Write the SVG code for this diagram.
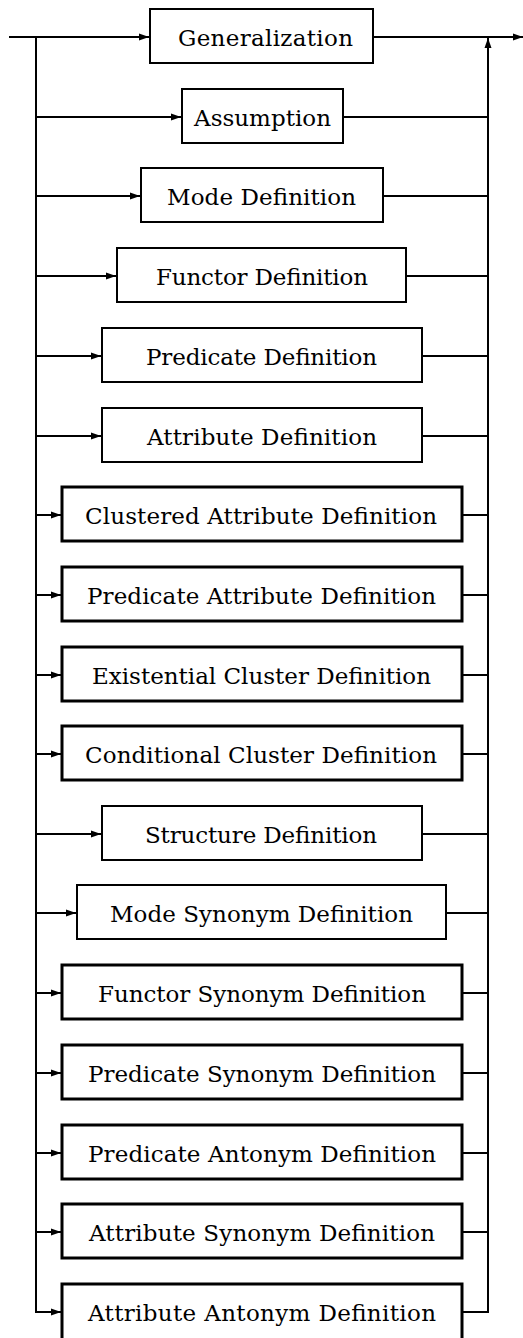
<svg xmlns="http://www.w3.org/2000/svg" width="523" height="1338" viewBox="0 0 523 1338">
  <style>
    .box { fill: #ffffff; stroke: #000000; stroke-width: 2; }
    .box.wide { stroke-width: 3; }
    .lbl { font-family: "DejaVu Serif", "Liberation Serif", serif; font-size: 23px; fill: #000000; }
    .wire { fill: none; stroke: #000000; stroke-width: 2; }
  </style>
  <defs>
    <marker id="arrow" markerUnits="userSpaceOnUse" markerWidth="10" markerHeight="8" refX="10" refY="4" orient="auto">
      <path d="M0,0.5 L10,4 L0,7.5 Z" fill="#000000"/>
    </marker>
  </defs>

  <!-- connectors: left fan-out bus, right collecting bus -->
  <g id="connectors">
    <!-- entry line -->
    <path class="wire" d="M9,37 H149" marker-end="url(#arrow)"/>
    <!-- left bus -->
    <path class="wire" d="M36,37 V1312 H61" marker-end="url(#arrow)"/>
    <path class="wire" d="M36,117 H181" marker-end="url(#arrow)"/>
    <path class="wire" d="M36,196 H140" marker-end="url(#arrow)"/>
    <path class="wire" d="M36,276 H116" marker-end="url(#arrow)"/>
    <path class="wire" d="M36,356 H101" marker-end="url(#arrow)"/>
    <path class="wire" d="M36,436 H101" marker-end="url(#arrow)"/>
    <path class="wire" d="M36,515 H61" marker-end="url(#arrow)"/>
    <path class="wire" d="M36,595 H61" marker-end="url(#arrow)"/>
    <path class="wire" d="M36,675 H61" marker-end="url(#arrow)"/>
    <path class="wire" d="M36,754 H61" marker-end="url(#arrow)"/>
    <path class="wire" d="M36,834 H101" marker-end="url(#arrow)"/>
    <path class="wire" d="M36,913 H76" marker-end="url(#arrow)"/>
    <path class="wire" d="M36,993 H61" marker-end="url(#arrow)"/>
    <path class="wire" d="M36,1073 H61" marker-end="url(#arrow)"/>
    <path class="wire" d="M36,1153 H61" marker-end="url(#arrow)"/>
    <path class="wire" d="M36,1232 H61" marker-end="url(#arrow)"/>
    <!-- exit line -->
    <path class="wire" d="M373,37 H523" marker-end="url(#arrow)"/>
    <!-- right bus -->
    <path class="wire" d="M462,1312 H488 V38" marker-end="url(#arrow)"/>
    <path class="wire" d="M343,117 H488"/>
    <path class="wire" d="M383,196 H488"/>
    <path class="wire" d="M406,276 H488"/>
    <path class="wire" d="M422,356 H488"/>
    <path class="wire" d="M422,436 H488"/>
    <path class="wire" d="M462,515 H488"/>
    <path class="wire" d="M462,595 H488"/>
    <path class="wire" d="M462,675 H488"/>
    <path class="wire" d="M462,754 H488"/>
    <path class="wire" d="M422,834 H488"/>
    <path class="wire" d="M446,913 H488"/>
    <path class="wire" d="M462,993 H488"/>
    <path class="wire" d="M462,1073 H488"/>
    <path class="wire" d="M462,1153 H488"/>
    <path class="wire" d="M462,1232 H488"/>
  </g>

  <g id="generalization">
    <rect class="box" x="150" y="9" width="223" height="54"/>
    <text class="lbl" x="178" y="46" textLength="175" lengthAdjust="spacing">Generalization</text>
  </g>
  <g id="assumption">
    <rect class="box" x="182" y="89" width="161" height="54"/>
    <text class="lbl" x="194" y="126" textLength="137" lengthAdjust="spacing">Assumption</text>
  </g>
  <g id="mode-definition">
    <rect class="box" x="141" y="168" width="242" height="54"/>
    <text class="lbl" x="167" y="205" textLength="189" lengthAdjust="spacing">Mode Definition</text>
  </g>
  <g id="functor-definition">
    <rect class="box" x="117" y="248" width="289" height="54"/>
    <text class="lbl" x="156" y="285" textLength="212" lengthAdjust="spacing">Functor Definition</text>
  </g>
  <g id="predicate-definition">
    <rect class="box" x="102" y="328" width="320" height="54"/>
    <text class="lbl" x="146" y="365" textLength="231" lengthAdjust="spacing">Predicate Definition</text>
  </g>
  <g id="attribute-definition">
    <rect class="box" x="102" y="408" width="320" height="54"/>
    <text class="lbl" x="147" y="445" textLength="230" lengthAdjust="spacing">Attribute Definition</text>
  </g>
  <g id="clustered-attribute-definition">
    <rect class="box wide" x="62" y="487" width="400" height="54"/>
    <text class="lbl" x="85" y="524" textLength="352" lengthAdjust="spacing">Clustered Attribute Definition</text>
  </g>
  <g id="predicate-attribute-definition">
    <rect class="box wide" x="62" y="567" width="400" height="54"/>
    <text class="lbl" x="87" y="604" textLength="349" lengthAdjust="spacing">Predicate Attribute Definition</text>
  </g>
  <g id="existential-cluster-definition">
    <rect class="box wide" x="62" y="647" width="400" height="54"/>
    <text class="lbl" x="92" y="684" textLength="339" lengthAdjust="spacing">Existential Cluster Definition</text>
  </g>
  <g id="conditional-cluster-definition">
    <rect class="box wide" x="62" y="726" width="400" height="54"/>
    <text class="lbl" x="85" y="763" textLength="352" lengthAdjust="spacing">Conditional Cluster Definition</text>
  </g>
  <g id="structure-definition">
    <rect class="box" x="102" y="806" width="320" height="54"/>
    <text class="lbl" x="145" y="843" textLength="232" lengthAdjust="spacing">Structure Definition</text>
  </g>
  <g id="mode-synonym-definition">
    <rect class="box" x="77" y="885" width="369" height="54"/>
    <text class="lbl" x="110" y="922" textLength="303" lengthAdjust="spacing">Mode Synonym Definition</text>
  </g>
  <g id="functor-synonym-definition">
    <rect class="box wide" x="62" y="965" width="400" height="54"/>
    <text class="lbl" x="98" y="1002" textLength="328" lengthAdjust="spacing">Functor Synonym Definition</text>
  </g>
  <g id="predicate-synonym-definition">
    <rect class="box wide" x="62" y="1045" width="400" height="54"/>
    <text class="lbl" x="88" y="1082" textLength="348" lengthAdjust="spacing">Predicate Synonym Definition</text>
  </g>
  <g id="predicate-antonym-definition">
    <rect class="box wide" x="62" y="1125" width="400" height="54"/>
    <text class="lbl" x="88" y="1162" textLength="348" lengthAdjust="spacing">Predicate Antonym Definition</text>
  </g>
  <g id="attribute-synonym-definition">
    <rect class="box wide" x="62" y="1204" width="400" height="54"/>
    <text class="lbl" x="89" y="1241" textLength="346" lengthAdjust="spacing">Attribute Synonym Definition</text>
  </g>
  <g id="attribute-antonym-definition">
    <rect class="box wide" x="62" y="1284" width="400" height="60"/>
    <text class="lbl" x="88" y="1321" textLength="348" lengthAdjust="spacing">Attribute Antonym Definition</text>
  </g>
</svg>
